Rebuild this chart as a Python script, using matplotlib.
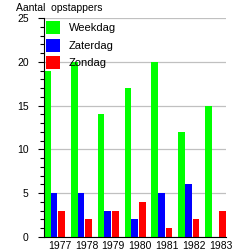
import matplotlib
matplotlib.use("Agg")
import matplotlib.pyplot as plt
import numpy as np

years = ["1977", "1978", "1979", "1980", "1981", "1982", "1983"]
weekdag = [19, 20, 14, 17, 20, 12, 15]
zaterdag = [5, 5, 3, 2, 5, 6, 0]
zondag = [3, 2, 3, 4, 1, 2, 3]

plt.rcParams["font.family"] = ["Liberation Sans", "DejaVu Sans"]
plt.rcParams["font.size"] = 7.5

fig = plt.figure(figsize=(2.46, 2.5), dpi=100)
ax = fig.add_axes([0.179, 0.052, 0.74, 0.876])

x = np.arange(len(years))
w = 0.25
ax.bar(x, weekdag, w, align="edge", color="#00ff00", label="Weekdag", zorder=2)
ax.bar(x + w, zaterdag, w, align="edge", color="#0000ff", label="Zaterdag", zorder=2)
ax.bar(x + 2 * w + 0.03, zondag, w, align="edge", color="#ff0000", label="Zondag", zorder=2)

ax.set_xlim(0, len(years) - 1 + 0.78)
ax.set_ylim(0, 25)
ax.set_yticks([0, 5, 10, 15, 20, 25])
ax.set_yticks(np.arange(0, 26, 1), minor=True)
ax.set_xticks(x + 0.58)
ax.set_xticklabels(years)
ax.tick_params(axis="x", length=0, pad=3)
ax.tick_params(axis="y", which="major", length=4, width=0.8, pad=7)
ax.tick_params(axis="y", which="minor", length=3, width=0.8)

ax.yaxis.grid(True, color="#c0c0c0", linewidth=0.9, zorder=0)
ax.set_axisbelow(True)
for s in ["top", "right"]:
    ax.spines[s].set_visible(False)

leg = ax.legend(loc="upper left", bbox_to_anchor=(0.01, 0.985), frameon=False,
                borderpad=0, handlelength=1.26, handleheight=1.42,
                handletextpad=0.8, labelspacing=0.4, borderaxespad=0,
                fontsize=8)
leg.set_zorder(5)

fig.text(0.065, 0.988, "Aantal  opstappers", ha="left", va="top")

fig.savefig("out.png", dpi=100)
